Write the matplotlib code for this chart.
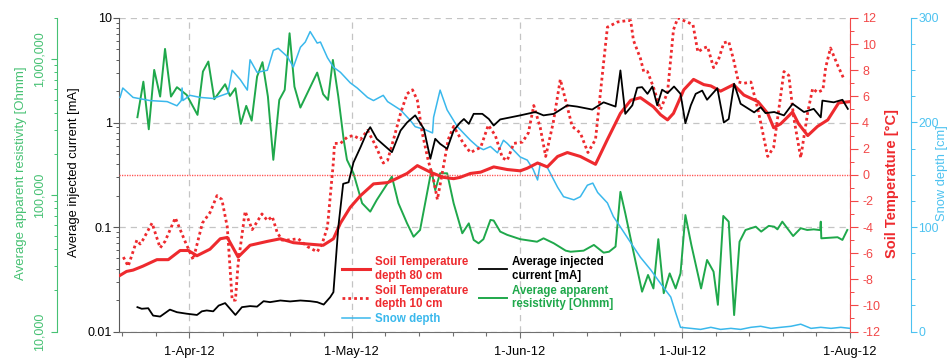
import numpy as np
import matplotlib
matplotlib.use("Agg")
import matplotlib.pyplot as plt
import matplotlib.dates as mdates
from matplotlib.ticker import (FixedLocator, FuncFormatter, LogLocator,
                               MultipleLocator, NullFormatter)

plt.rcParams["font.family"] = ["Liberation Sans", "DejaVu Sans"]
plt.rcParams["axes.unicode_minus"] = False

# ---------------------------------------------------------------- data
# time axis: days counted from 1 April 2012
t80_days = [-12.8, -11.6, -10.4, -8.6, -6.0, -3.9, -1.7, -0.2, 1.4, 3.8, 5.7, 7.0, 9.0, 11.2,
            14.4, 16.8, 19.2, 21.8, 24.7, 26.6, 27.9, 29.7, 31.6, 34.0, 36.6, 37.7, 40.2, 42.1,
            44.5, 46.9, 48.8, 50.0, 51.9, 53.8, 56.2, 58.7, 61.1, 62.4, 64.3, 66.1, 68.0, 69.8,
            72.2, 75.0, 77.2, 79.6, 81.5, 83.3, 85.7, 87.0, 88.3, 89.4, 91.3, 93.1, 95.0, 96.3,
            98.1, 100.5, 102.4, 105.0, 106.8, 107.9, 109.2, 111.4, 112.5, 114.2, 116.0, 117.9,
            119.9, 122.0]
t80_vals = [-7.7, -7.4, -7.3, -7.0, -6.5, -6.5, -5.8, -5.8, -6.2, -5.7, -4.9, -4.8, -6.3, -5.4,
            -5.1, -4.9, -5.2, -5.3, -5.4, -4.9, -3.7, -2.5, -1.6, -0.7, -0.6, -0.4, 0.1, 0.7,
            0.2, -0.2, -0.3, -0.2, 0.1, 0.2, 0.6, 0.4, 0.3, 0.5, 0.9, 0.6, 1.4, 1.7,
            1.4, 0.8, 2.7, 4.7, 5.7, 5.9, 5.2, 4.6, 4.2, 4.7, 6.5, 7.3, 6.9, 6.8,
            6.4, 6.9, 6.1, 5.6, 4.7, 3.6, 3.9, 4.8, 3.9, 3.0, 3.7, 4.2,
            5.5, 5.6]

t10_days = [-12.2, -11.3, -9.7, -9.1, -8.6, -6.9, -5.4, -4.5, -2.6, -0.8, 0.7, 2.4, 3.8, 5.1,
            6.0, 7.0, 7.9, 8.5, 9.0, 10.3, 11.6, 13.4, 14.4, 15.3, 16.2, 17.1, 18.1, 20.1,
            21.8, 23.6, 24.5, 25.5, 26.6, 26.8, 27.9, 29.2, 30.3, 31.6, 32.9, 34.3, 35.8, 36.6,
            37.7, 39.0, 40.2, 41.2, 42.1, 43.0, 44.1, 45.1, 45.8, 46.9, 47.8, 48.8, 50.6, 51.9,
            53.8, 55.2, 56.5, 57.8, 58.7, 59.9, 61.5, 62.6, 63.6, 64.8, 65.8, 67.2, 68.5, 70.7,
            72.2, 73.6, 75.0, 76.5, 77.2, 79.1, 80.9, 81.5, 82.0, 83.3, 83.9, 84.6, 85.7, 87.0,
            88.3, 89.4, 90.2, 91.3, 93.0, 93.9, 95.0, 95.7, 96.8, 97.7, 98.7, 99.6, 100.5, 101.4,
            102.4, 103.7, 105.0, 106.8, 107.9, 109.8, 110.7, 111.6, 112.9, 114.2, 115.1, 116.0,
            117.0, 117.5, 118.4, 119.7, 120.8]
t10_vals = [-6.3, -7.0, -5.0, -5.3, -5.0, -3.7, -5.6, -5.1, -3.3, -5.1, -6.5, -3.7, -2.9, -1.6,
            -1.9, -4.0, -9.6, -9.6, -6.8, -2.8, -4.2, -3.0, -3.5, -3.2, -4.4, -5.0, -5.0, -4.9,
            -5.5, -5.9, -5.3, -4.0, 1.0, 2.4, 2.4, 2.9, 3.0, 2.7, 3.4, 2.3, 0.9, 1.1,
            2.7, 4.7, 6.2, 6.5, 5.7, 3.2, 1.1, -0.4, -1.9, 0.6, 2.7, 3.7, 2.4, 1.7,
            2.1, 3.8, 3.0, 1.3, 1.1, 2.4, 2.5, 3.2, 5.3, 3.6, 1.4, 4.0, 7.3, 3.7,
            3.2, 1.7, 2.7, 8.6, 11.3, 11.7, 11.8, 11.8, 10.3, 8.9, 7.9, 7.9, 6.7, 5.0,
            6.3, 11.1, 12.0, 11.8, 11.5, 9.4, 9.7, 9.8, 8.2, 8.8, 10.1, 10.2, 8.8, 7.1,
            7.0, 7.1, 5.0, 1.4, 2.1, 7.9, 7.6, 4.4, 1.3, 4.8, 6.6, 6.3,
            6.5, 8.2, 9.7, 8.4, 7.4]

cur_days = [-9.6, -8.8, -7.6, -6.7, -5.4, -3.6, -2.3, -0.5, 1.4, 2.3, 3.2, 4.4, 5.4, 6.6,
            8.5, 9.7, 11.2, 12.5, 13.7, 14.9, 16.8, 18.6, 20.5, 22.3, 23.6, 24.8, 26.0, 26.6,
            27.5, 28.4, 29.4, 30.3, 31.6, 32.8, 33.4, 34.6, 37.4, 39.0, 40.2, 41.7, 43.3, 44.5,
            45.4, 46.3, 47.6, 48.8, 50.0, 50.7, 51.6, 52.5, 54.1, 55.3, 56.2, 57.4, 59.3, 61.1,
            63.9, 65.4, 67.3, 69.8, 71.6, 74.4, 76.5, 78.7, 79.6, 80.5, 81.8, 82.7, 83.6, 84.6,
            85.5, 86.4, 87.3, 88.3, 89.5, 90.7, 91.6, 92.6, 93.5, 94.7, 95.6, 97.5, 98.7, 99.6,
            100.6, 101.8, 104.3, 105.5, 106.4, 108.0, 109.8, 111.4, 113.5, 115.3, 116.6, 116.9,
            119.0, 120.6, 121.6]
cur_vals = [0.0171, 0.0165, 0.0167, 0.0142, 0.0139, 0.0162, 0.0153, 0.0148, 0.0144, 0.0156,
            0.0159, 0.0156, 0.0177, 0.0187, 0.0144, 0.0171, 0.0175, 0.0173, 0.0195, 0.0191,
            0.0198, 0.0194, 0.0198, 0.0195, 0.0191, 0.0181, 0.0213, 0.0238, 0.0995, 0.259,
            0.268, 0.414, 0.58, 0.808, 0.902, 0.698, 0.52, 0.838, 1.0, 1.17, 0.87, 0.45,
            0.698, 0.625, 0.56, 0.838, 1.0, 1.08, 0.97, 1.21, 1.21, 1.08, 0.936, 1.07, 1.12, 1.17,
            1.26, 1.17, 1.21, 1.46, 1.42, 1.33, 1.56, 1.42, 3.15, 1.21, 1.46, 2.15, 2.18, 1.88,
            2.21, 1.46, 2.06, 1.91, 2.21, 1.88, 0.985, 1.46, 1.88, 2.02, 1.65, 2.13, 1.0, 1.08,
            2.35, 1.51, 1.25, 1.4, 1.23, 1.26, 1.17, 1.51, 1.26, 1.35, 1.12, 1.62,
            1.56, 1.65, 1.35]

res_days = [-9.6, -8.5, -7.5, -6.5, -5.4, -4.5, -3.4, -2.3, -0.5, 1.5, 2.5, 3.5, 4.6, 6.6,
            7.5, 8.5, 9.5, 10.5, 11.5, 12.5, 13.5, 14.5, 15.5, 16.6, 17.6, 18.5, 19.4, 20.5,
            23.6, 24.7, 25.6, 26.5, 27.5, 28.5, 29.1, 30.3, 31.9, 33.4, 34.6, 37.4, 38.6, 40.2,
            41.4, 42.6, 44.7, 45.4, 46.3, 47.6, 48.8, 50.4, 51.6, 52.5, 53.4, 54.3, 55.6, 56.2,
            57.4, 58.7, 61.1, 64.2, 65.4, 67.3, 69.5, 70.4, 72.8, 74.7, 76.5, 77.5, 78.7, 79.6,
            80.5, 81.8, 83.6, 84.7, 85.7, 86.6, 87.6, 88.7, 89.8, 90.7, 91.6, 92.7, 94.5, 95.6,
            96.8, 97.6, 98.6, 99.6, 100.6, 101.6, 102.7, 104.6, 105.6, 107.0, 108.0, 108.6,
            109.5, 111.5, 112.9, 114.1, 115.3, 116.5, 116.6, 116.7, 119.7, 120.6, 121.5]
res_vals = [374000, 682000, 305000, 832000, 530000, 1186000, 530000, 621000, 545000, 389000,
            809000, 958000, 507000, 653000, 536000, 610000, 334000, 453000, 353000, 743000,
            948000, 530000, 182000, 501000, 593000, 1545000, 627000, 440000, 795000, 552000,
            501000, 985000, 530000, 255000, 182000, 145000, 87400, 75800, 92300, 137000,
            87400, 62200, 49600, 55600, 153000, 109000, 145000, 145000, 87400, 52600,
            62200, 47000, 44400, 47600, 65900, 65200, 54100, 51200, 47600, 45600,
            48300, 44400, 39200, 38500, 39200, 43200, 37900, 38500, 42000, 106000,
            73700, 42000, 19600, 26000, 20700, 47600, 19100, 26700, 20700, 26700,
            71600, 43200, 20700, 33500, 27500, 15700, 70500, 64000, 13200, 45600,
            55600, 58800, 54100, 59600, 58800, 56200, 64000, 50200, 57300, 55600,
            56200, 55500, 64000, 48300, 49200, 47000, 55600]

snow_days = [-12.8, -12.3, -10.4, -7.3, -4.1, -2.3, -1.5, -1.35, -1.2, 0.1, 2.0, 4.4, 7.1, 7.9,
             9.4, 10.7, 11.2, 12.5, 14.4, 15.5, 16.4, 18.1, 19.2, 20.5, 21.4, 22.3, 23.6, 24.2,
             25.5, 26.6, 27.9, 29.7, 31.0, 32.9, 34.0, 35.8, 36.6, 39.0, 40.8, 41.7, 43.6, 44.9,
             45.1, 46.3, 47.6, 49.5, 50.6, 51.9, 53.2, 54.3, 55.6, 56.9, 58.0, 58.7, 59.8, 61.1,
             62.4, 63.5, 64.3, 64.8, 66.1, 68.0, 69.1, 71.0, 72.2, 73.5, 74.5, 75.4, 77.2, 78.3,
             79.6, 81.5, 83.3, 85.2, 87.0, 88.9, 89.8, 90.7, 92.6, 94.4, 96.3, 98.1, 100.0, 101.8,
             103.7, 105.5, 107.4, 109.2, 111.1, 112.9, 114.8, 116.6, 118.5, 120.3, 122.0]
snow_vals = [224, 233, 224, 221, 220, 216, 221, 233, 221, 226, 224, 223, 228, 250,
             241, 231, 260, 248, 250, 269, 271, 263, 253, 272, 277, 287, 276, 277,
             262, 253, 248, 238, 233, 224, 221, 226, 220, 212, 202, 196, 193, 190,
             205, 231, 212, 196, 190, 183, 177, 174, 177, 171, 183, 180, 174, 167,
             164, 155, 145, 161, 157, 138, 129, 126, 129, 140, 142, 133, 123, 110,
             100, 85, 71, 59, 46, 33, 18, 4, 3, 2, 4, 2, 3, 2,
             4, 5, 3, 4, 5, 7, 3, 4, 3, 4, 3]

month_starts = ["2012-03-01", "2012-04-01", "2012-05-01", "2012-06-01", "2012-07-01", "2012-08-01"]
x_start, x_end = "2012-03-19", "2012-08-01"

# ---------------------------------------------------------------- styling
RED = "#ee2a2e"
RED_AX = "#f24848"
GREEN = "#1fa84b"
GREEN_AX = "#46c173"
BLUE = "#3ab8ec"
BLUE_AX = "#4cc2f0"
GRID = "#c4c4c4"
PX = 0.72  # points per pixel at 100 dpi

BASE = np.datetime64("2012-04-01T00:00")


def to_dates(days):
    minutes = np.round(np.asarray(days, dtype=float) * 1440).astype("int64")
    return BASE + minutes.astype("timedelta64[m]")


W, H = 947, 360
fig = plt.figure(figsize=(W / 100, H / 100), dpi=100)
L, R, T, B = 119, 850, 18, 331.5
rect = [L / W, (H - B) / H, (R - L) / W, (B - T) / H]

# base axes: current scale, grid and date axis
ax = fig.add_axes(rect)
ax.set_yscale("log")
ax.set_ylim(0.01, 10)
ax.set_xlim(np.datetime64(x_start), np.datetime64(x_end))

# date ticks: month starts, minor ticks every 31/5 days within each month
ms = [np.datetime64(m) for m in month_starts]
major_x = [m for m in ms if m >= np.datetime64("2012-04-01")]
minor_x = []
for a, b in zip(ms[:-1], ms[1:]):
    for k in range(1, 5):
        t = a.astype("datetime64[m]") + np.timedelta64(int(round(k * 6.2 * 1440)), "m")
        if np.datetime64(x_start) <= t < b:
            minor_x.append(t)
ax.xaxis.set_major_locator(FixedLocator(mdates.date2num(major_x)))
ax.xaxis.set_minor_locator(FixedLocator(mdates.date2num(minor_x)))
ax.xaxis.set_major_formatter(FuncFormatter(
    lambda v, p: f"{mdates.num2date(v).day}-{mdates.num2date(v):%b-%y}"))

ax.yaxis.set_major_locator(LogLocator(base=10, numticks=10))
ax.yaxis.set_minor_locator(LogLocator(base=10, subs=np.arange(2, 10), numticks=20))
ax.yaxis.set_major_formatter(FuncFormatter(lambda v, p: f"{v:g}"))
ax.yaxis.set_minor_formatter(NullFormatter())

ax.grid(True, which="major", axis="both", color=GRID, linestyle=(0, (5, 4)), linewidth=0.9)
for s in ("top", "right"):
    ax.spines[s].set_visible(False)
ax.spines["left"].set_color("#5a5a5a")
ax.spines["bottom"].set_color("#707070")
ax.tick_params(axis="y", which="major", direction="out", length=6 * PX, width=0.8,
               color="#5a5a5a", labelsize=9, pad=1)
ax.tick_params(axis="y", which="minor", direction="out", length=3.5 * PX, width=0.7,
               color="#5a5a5a")
ax.tick_params(axis="x", which="major", direction="out", length=6 * PX, width=0.8,
               color="#707070", labelsize=9.3, pad=6)
ax.tick_params(axis="x", which="minor", direction="out", length=3.5 * PX, width=0.8,
               color="#707070")

# resistivity axis, offset to the left
ax_r = ax.twinx()
ax_r.set_yscale("log")
ax_r.set_ylim(1e4, 2e6)
ax_r.yaxis.set_ticks_position("left")
ax_r.spines["left"].set_position(("outward", 62 * PX))
ax_r.spines["left"].set_visible(True)
for s in ("top", "bottom", "right"):
    ax_r.spines[s].set_visible(False)
ax_r.spines["left"].set_color(GREEN_AX)
ax_r.yaxis.set_major_locator(LogLocator(base=10, numticks=10))
ax_r.yaxis.set_minor_locator(LogLocator(base=10, subs=np.arange(2, 10), numticks=20))
ax_r.yaxis.set_major_formatter(FuncFormatter(lambda v, p: f"{int(round(v)):,}"))
ax_r.yaxis.set_minor_formatter(NullFormatter())
ax_r.tick_params(axis="y", which="major", direction="out", length=6 * PX, width=0.8,
                 color=GREEN_AX, labelcolor=GREEN_AX, labelsize=9, pad=4,
                 labelrotation=90)
ax_r.tick_params(axis="y", which="minor", direction="out", length=3.5 * PX, width=0.7,
                 color=GREEN_AX)
for lab in ax_r.get_yticklabels():
    lab.set_verticalalignment("center")

# snow depth axis, offset to the right
ax_s = ax.twinx()
ax_s.set_ylim(0, 300)
ax_s.spines["right"].set_position(("outward", 61 * PX))
for s in ("top", "bottom", "left"):
    ax_s.spines[s].set_visible(False)
ax_s.spines["right"].set_color(BLUE_AX)
ax_s.yaxis.set_major_locator(MultipleLocator(100))
ax_s.yaxis.set_minor_locator(MultipleLocator(25))
ax_s.tick_params(axis="y", which="major", direction="out", length=6 * PX, width=0.8,
                 color=BLUE_AX, labelcolor=BLUE_AX, labelsize=8.8, pad=1)
ax_s.tick_params(axis="y", which="minor", direction="out", length=3.5 * PX, width=0.7,
                 color=BLUE_AX)

# soil temperature axis on the plot's right edge
ax_t = ax.twinx()
ax_t.set_ylim(-12, 12)
for s in ("top", "bottom", "left"):
    ax_t.spines[s].set_visible(False)
ax_t.spines["right"].set_color(RED_AX)
ax_t.yaxis.set_major_locator(MultipleLocator(2))
ax_t.yaxis.set_minor_locator(MultipleLocator(1))
ax_t.tick_params(axis="y", which="major", direction="out", length=8 * PX, width=0.8,
                 color=RED_AX, labelcolor=RED_AX, labelsize=9, pad=3)
ax_t.tick_params(axis="y", which="minor", direction="out", length=4 * PX, width=0.7,
                 color=RED_AX)

# current drawn on its own log layer so it sits above the other series
ax_c = ax.twinx()
ax_c.set_yscale("log")
ax_c.set_ylim(0.01, 10)
ax_c.axis("off")

# ---------------------------------------------------------------- series
h_snow, = ax_s.plot(to_dates(snow_days), snow_vals, color=BLUE, lw=1.1)
h_res, = ax_r.plot(to_dates(res_days), res_vals, color=GREEN, lw=1.4)
ax_t.axhline(0, color="#ff5050", lw=1.0, linestyle=(0, (0.9, 0.9)))
h_t10, = ax_t.plot(to_dates(t10_days), t10_vals, color=RED, lw=2.0, linestyle=(0, (1, 1.1)))
h_t80, = ax_t.plot(to_dates(t80_days), t80_vals, color=RED, lw=2.2)
h_cur, = ax_c.plot(to_dates(cur_days), cur_vals, color="black", lw=1.3)

# ---------------------------------------------------------------- labels
fig.text(21 / W, 1 - 173 / H, "Average apparent resistivity [Ohmm]", rotation=90,
         ha="center", va="center", fontsize=9.5, color=GREEN_AX)
fig.text(74 / W, 1 - 172 / H, "Average injected current [mA]", rotation=90,
         ha="center", va="center", fontsize=9.3, color="black")
fig.text(892 / W, 1 - 183 / H, "Soil Temperature [°C]", rotation=90,
         ha="center", va="center", fontsize=10.5, fontweight="bold", color=RED)
fig.text(941.5 / W, 1 - 173 / H, "Snow depth [cm]", rotation=90,
         ha="center", va="center", fontsize=9.3, color=BLUE_AX)

handles = [h_t80, h_t10, h_snow, h_cur, h_res]
labels = ["Soil Temperature\ndepth 80 cm", "Soil Temperature\ndepth 10 cm", "Snow depth",
          "Average injected\ncurrent [mA]", "Average apparent\nresistivity [Ohmm]"]
label_colors = [RED, RED, BLUE, "black", GREEN]
leg = fig.legend(handles, labels, loc="upper left", bbox_to_anchor=(342 / W, 1 - 256 / H),
                 ncol=2, frameon=False, prop={"weight": "bold", "size": 8.3},
                 handlelength=2.4, handletextpad=0.5, columnspacing=0.9,
                 borderpad=0, borderaxespad=0, labelspacing=0.25)
for txt, c in zip(leg.get_texts(), label_colors):
    txt.set_color(c)

fig.savefig("out.png", dpi=100)
